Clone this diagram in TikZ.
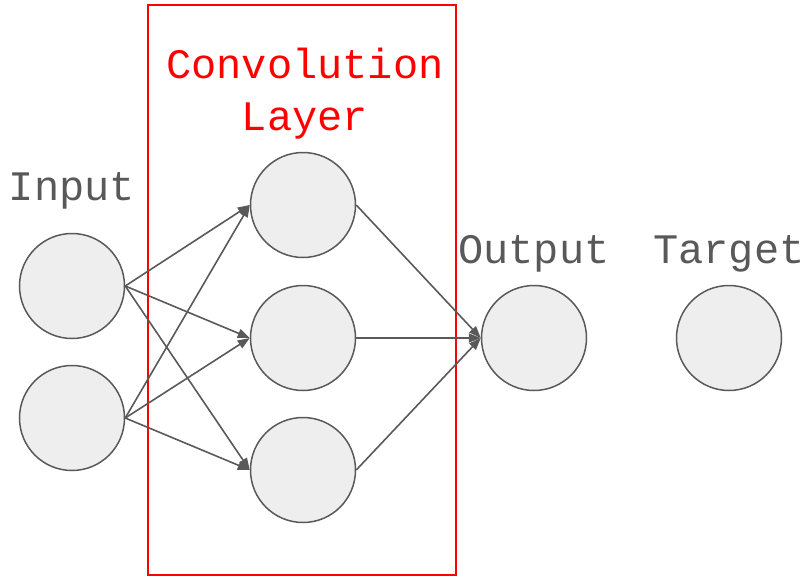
\documentclass[tikz,border=0pt]{standalone}
\usepackage{fontspec}
\setmainfont{Liberation Mono}
\usetikzlibrary{arrows.meta}
\definecolor{edgegray}{HTML}{595959}
\definecolor{cellfill}{HTML}{EEEEEE}
\definecolor{layerred}{HTML}{FF0000}
\begin{document}
\begin{tikzpicture}[x=1pt,y=-1pt,
  neuron/.style={circle,draw=edgegray,fill=cellfill,line width=1.5pt,minimum size=105pt,inner sep=0pt},
  link/.style={draw=edgegray,line width=1.6pt,-{Triangle[length=12pt,width=9pt]}},
  caption/.style={font=\fontsize{42}{50}\selectfont,text=edgegray,anchor=base,inner sep=0pt},
  redcaption/.style={caption,text=layerred}]
\useasboundingbox (0,0) rectangle (809,576);
% convolution layer frame
\node[draw=layerred,line width=1.5pt,minimum width=308pt,minimum height=570pt,inner sep=0pt] (frame) at (302,290) {};
\node[redcaption] (t1) at (305,78) {Convolution};
\node[redcaption] (t2) at (305,130) {Layer};
% neurons
\node[neuron] (i1) at (72,286) {};
\node[neuron] (i2) at (72,418) {};
\node[neuron] (h1) at (303,205) {};
\node[neuron] (h2) at (303,338) {};
\node[neuron] (h3) at (303,470) {};
\node[neuron] (o) at (534,338) {};
\node[neuron] (t) at (729,338) {};
% labels
\node[caption] (li) at (72,200) {Input};
\node[caption] (lo) at (534,263) {Output};
\node[caption] (lt) at (729,263) {Target};
% connections
\foreach \a in {i1,i2}
  \foreach \b in {h1,h2,h3}
    \draw[link] (\a.east) -- (\b.west);
\foreach \b in {h1,h2,h3}
  \draw[link] (\b.east) -- (o.west);
\end{tikzpicture}
\end{document}
